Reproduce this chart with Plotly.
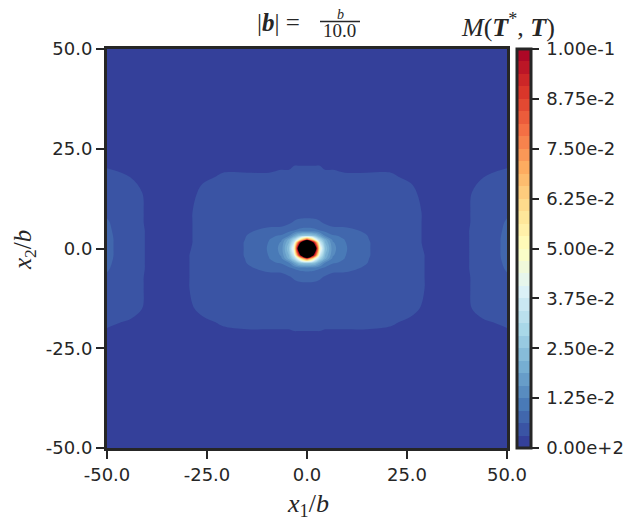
import plotly.graph_objects as go

# grid nodes for x1/b >= 0 (the field is mirror-symmetric about x1 = 0)
x_half = [0, 1.5, 2.2, 3.2, 4.5, 6.5, 9.5, 15, 21, 26, 31, 35, 38, 44, 50]
y_nodes = [-50, -30, -22.5, -18.5, -15, -10, -7.3, -5.0, -3.6, -2.5, -1.7,
           0, 1.5, 2.2, 3.2, 4.5, 6.5, 9, 14, 18, 22, 30, 50]

# M(T*, T), one row per y node (bottom to top)
m_half = [
    [0.0018, 0.0018, 0.0018, 0.0018, 0.0018, 0.0018, 0.0018, 0.0018, 0.0018, 0.0018, 0.0018, 0.0019, 0.0019, 0.0020, 0.0020],
    [0.0023, 0.0023, 0.0023, 0.0023, 0.0023, 0.0023, 0.0023, 0.0023, 0.0023, 0.0023, 0.0022, 0.0022, 0.0022, 0.0023, 0.0023],
    [0.0029, 0.0029, 0.0029, 0.0029, 0.0029, 0.0029, 0.0029, 0.0029, 0.0029, 0.0027, 0.0025, 0.0024, 0.0025, 0.0027, 0.0028],
    [0.0034, 0.0034, 0.0034, 0.0034, 0.0033, 0.0033, 0.0033, 0.0033, 0.0032, 0.0030, 0.0027, 0.0024, 0.0026, 0.0030, 0.0033],
    [0.0037, 0.0037, 0.0037, 0.0037, 0.0037, 0.0036, 0.0036, 0.0036, 0.0035, 0.0033, 0.0029, 0.0025, 0.0027, 0.0035, 0.0042],
    [0.0050, 0.0050, 0.0049, 0.0048, 0.0046, 0.0044, 0.0043, 0.0042, 0.0040, 0.0036, 0.0029, 0.0025, 0.0027, 0.0036, 0.0052],
    [0.0072, 0.0071, 0.0070, 0.0066, 0.0058, 0.0052, 0.0052, 0.0050, 0.0043, 0.0036, 0.0029, 0.0025, 0.0027, 0.0036, 0.0058],
    [0.0105, 0.0103, 0.0100, 0.0095, 0.0085, 0.0072, 0.0070, 0.0058, 0.0045, 0.0036, 0.0029, 0.0025, 0.0027, 0.0037, 0.0066],
    [0.026, 0.025, 0.023, 0.018, 0.0125, 0.0097, 0.0088, 0.0063, 0.0046, 0.0036, 0.0029, 0.0025, 0.0027, 0.0037, 0.0069],
    [0.085, 0.060, 0.043, 0.030, 0.020, 0.0115, 0.0093, 0.0064, 0.0047, 0.0036, 0.0029, 0.0025, 0.0027, 0.0037, 0.0071],
    [0.20, 0.105, 0.080, 0.037, 0.022, 0.0128, 0.0095, 0.0065, 0.0047, 0.0036, 0.0029, 0.0025, 0.0027, 0.0037, 0.0072],
    [0.50, 0.25, 0.11, 0.048, 0.025, 0.0135, 0.0097, 0.0065, 0.0047, 0.0036, 0.0028, 0.0026, 0.0027, 0.0037, 0.0072],
    [0.20, 0.105, 0.080, 0.037, 0.022, 0.0128, 0.0095, 0.0065, 0.0047, 0.0036, 0.0027, 0.0025, 0.0027, 0.0037, 0.0072],
    [0.085, 0.060, 0.043, 0.030, 0.020, 0.0115, 0.0093, 0.0064, 0.0047, 0.0036, 0.0027, 0.0025, 0.0027, 0.0037, 0.0072],
    [0.026, 0.025, 0.023, 0.018, 0.0125, 0.0097, 0.0088, 0.0063, 0.0046, 0.0036, 0.0027, 0.0025, 0.0027, 0.0037, 0.0071],
    [0.0105, 0.0103, 0.0100, 0.0095, 0.0085, 0.0072, 0.0070, 0.0058, 0.0045, 0.0036, 0.0027, 0.0025, 0.0027, 0.0037, 0.0069],
    [0.0072, 0.0071, 0.0070, 0.0066, 0.0058, 0.0052, 0.0052, 0.0050, 0.0043, 0.0036, 0.0027, 0.0025, 0.0027, 0.0036, 0.0066],
    [0.0050, 0.0050, 0.0049, 0.0048, 0.0046, 0.0044, 0.0043, 0.0042, 0.0040, 0.0036, 0.0027, 0.0025, 0.0027, 0.0036, 0.0058],
    [0.0037, 0.0037, 0.0037, 0.0037, 0.0037, 0.0036, 0.0036, 0.0036, 0.0035, 0.0033, 0.0027, 0.0025, 0.0027, 0.0035, 0.0045],
    [0.0034, 0.0034, 0.0034, 0.0034, 0.0033, 0.0033, 0.0032, 0.0032, 0.0032, 0.0030, 0.0026, 0.0024, 0.0026, 0.0031, 0.0035],
    [0.0030, 0.0030, 0.0030, 0.0030, 0.0029, 0.0029, 0.0029, 0.0029, 0.0029, 0.0027, 0.0025, 0.0024, 0.0025, 0.0027, 0.0028],
    [0.0023, 0.0023, 0.0023, 0.0023, 0.0023, 0.0023, 0.0023, 0.0023, 0.0023, 0.0023, 0.0022, 0.0022, 0.0022, 0.0023, 0.0023],
    [0.0018, 0.0018, 0.0018, 0.0018, 0.0018, 0.0018, 0.0018, 0.0018, 0.0018, 0.0018, 0.0018, 0.0019, 0.0019, 0.0020, 0.0020],
]

m_max = 0.1
n_bands = 32
axis_ticks = [-50, -25, 0, 25, 50]
axis_labels = ["-50.0", "-25.0", "0.0", "25.0", "50.0"]
cbar_ticks = [0, 0.0125, 0.025, 0.0375, 0.05, 0.0625, 0.075, 0.0875, 0.1]
cbar_labels = ["0.00e+2", "1.25e-2", "2.50e-2", "3.75e-2", "5.00e-2",
               "6.25e-2", "7.50e-2", "8.75e-2", "1.00e-1"]

# full grid: mirror the right half onto x1 < 0
x_nodes = [-v for v in x_half[:0:-1]] + x_half
m_grid = [row[:0:-1] + row for row in m_half]

# RdYlBu_r, sampled at the band centres like a filled contour
rdylbu_r = ['#313695', '#4575b4', '#74add1', '#abd9e9', '#e0f3f8', '#ffffbf',
            '#fee090', '#fdae61', '#f46d43', '#d73027', '#a50026']


def cmap(t):
    pos = t * (len(rdylbu_r) - 1)
    i = min(int(pos), len(rdylbu_r) - 2)
    f = pos - i
    a = [int(rdylbu_r[i][j:j + 2], 16) for j in (1, 3, 5)]
    b = [int(rdylbu_r[i + 1][j:j + 2], 16) for j in (1, 3, 5)]
    c = [round(a[k] + (b[k] - a[k]) * f) for k in range(3)]
    return 'rgb(%d,%d,%d)' % tuple(c)


band_colours = [cmap((k + 0.5) / n_bands) for k in range(n_bands)]

# plotly colours the band between level k and k+1 at (k+1)/(n+1)
nc = n_bands + 1
contour_scale = []
for k, c in enumerate(band_colours):
    lo = 0 if k == 0 else (k + 0.5) / nc
    contour_scale += [[lo, c], [(k + 1.5) / nc, c]]
contour_scale += [[(n_bands + 0.5) / nc, 'black'], [1, 'black']]

cbar_scale = []
for k, c in enumerate(band_colours):
    cbar_scale += [[k / n_bands, c], [(k + 1) / n_bands, c]]

ink = '#262626'
tick_font = dict(family='DejaVu Sans', size=18, color=ink)
math_font = 'Liberation Serif'

fig = go.Figure()
fig.add_trace(go.Contour(
    x=x_nodes, y=y_nodes, z=m_grid,
    autocontour=False,
    contours=dict(start=0, end=m_max, size=m_max / n_bands,
                  coloring='fill', showlines=False),
    line=dict(width=0, smoothing=1.0),
    colorscale=contour_scale,
    showscale=False,
    hoverinfo='skip'
))

# colour bar only
fig.add_trace(go.Scatter(
    x=[None], y=[None], mode='markers', showlegend=False, hoverinfo='skip',
    marker=dict(
        color=[0], colorscale=cbar_scale, cmin=0, cmax=m_max, showscale=True,
        colorbar=dict(
            x=1.025, xanchor='left', xpad=0,
            y=0.5, yanchor='middle', len=1, ypad=0,
            thickness=14, outlinewidth=3, outlinecolor=ink,
            ticks='outside', ticklen=7, tickwidth=2, tickcolor=ink,
            tickvals=cbar_ticks,
            ticktext=['\u2009' + t for t in cbar_labels],
            tickfont=tick_font
        )
    )
))

axis_style = dict(
    range=[-50, 50], tickvals=axis_ticks, ticktext=axis_labels,
    showline=True, linewidth=3, linecolor=ink, mirror=True,
    ticks='outside', ticklen=8, tickwidth=2, tickcolor=ink,
    tickfont=tick_font, showgrid=False, zeroline=False
)

# the page sits 8 px in from the window corner
left, top, side_w, side_h = 99, 41, 400, 399


def px(xp):
    return (xp - 8 - left) / side_w


def py(yp):
    return (top + side_h + 8 - yp) / side_h


notes = [
    dict(x=px(278), y=py(23), text='|<b><i>b</i></b>| =', size=25),
    dict(x=px(340), y=py(15), text='<i>b</i>', size=14),
    dict(x=px(339), y=py(31), text='10.0', size=19),
    dict(x=px(508), y=py(25), size=26,
         text='<i>M</i>(<b><i>T</i></b><sup>*</sup>, <b><i>T</i></b>)'),
    dict(x=px(308), y=py(505), text='<i>x</i><sub>1</sub>/<i>b</i>', size=26),
]
annotations = [
    dict(xref='paper', yref='paper', x=n['x'], y=n['y'], text=n['text'],
         showarrow=False, xanchor='center', yanchor='middle',
         font=dict(family=math_font, size=n['size'], color=ink))
    for n in notes
]
annotations.append(dict(
    xref='paper', yref='paper', x=px(24), y=py(250),
    text='<i>x</i><sub>2</sub>/<i>b</i>', textangle=-90, showarrow=False,
    xanchor='center', yanchor='middle',
    font=dict(family=math_font, size=25, color=ink)
))

fig.update_layout(
    width=637, height=528,
    margin=dict(l=left, r=637 - left - side_w, t=top, b=528 - top - side_h),
    paper_bgcolor='white', plot_bgcolor='white',
    xaxis=axis_style, yaxis=axis_style,
    annotations=annotations,
    shapes=[dict(type='line', xref='paper', yref='paper',
                 x0=px(320), x1=px(360), y0=py(21.5), y1=py(21.5),
                 line=dict(color=ink, width=1.5))],
    showlegend=False
)

fig.write_html("out.html")
